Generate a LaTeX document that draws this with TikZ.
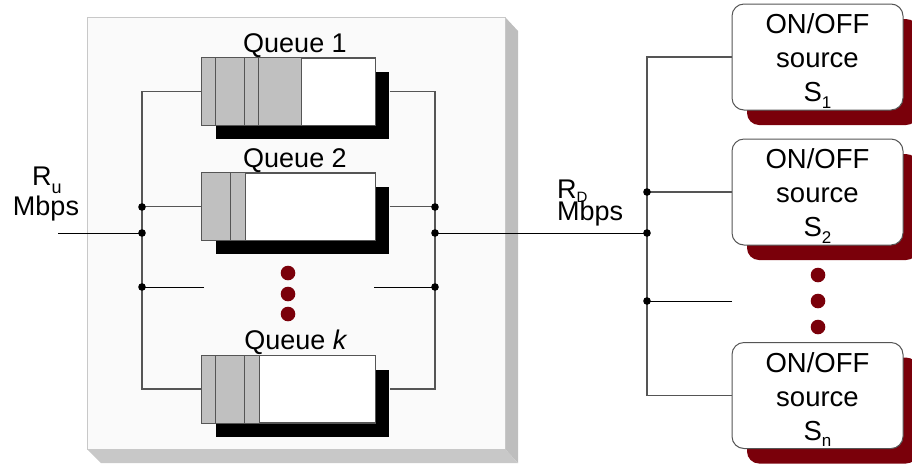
\documentclass[tikz,border=0pt]{standalone}
\usepackage{fontspec}
\setmainfont{Liberation Sans}
\usetikzlibrary{shadows}
\definecolor{maroonx}{RGB}{122,0,10}
\definecolor{cellgray}{RGB}{192,192,192}
\definecolor{edgegray}{RGB}{85,85,85}
\definecolor{panelside}{RGB}{190,190,190}
\definecolor{panelbottom}{RGB}{200,200,200}
\definecolor{panelface}{RGB}{250,250,250}
\definecolor{panelline}{RGB}{200,200,200}
\newcommand\qcellsx[2]{%
  \fill[cellgray] (#1.north west) rectangle ([xshift=#2pt]#1.south west);
}
\newcommand\qdivx[2]{%
  \foreach \dx in {#2} {\draw[edgegray,line width=1.2pt] ([xshift=\dx pt]#1.north west) -- ([xshift=\dx pt]#1.south west);}
  \draw[edgegray,line width=1pt] (#1.north west) rectangle (#1.south east);
}
\newcommand\subx[2]{\raisebox{#1}{\fontsize{17}{17}\selectfont #2}}
\begin{document}
\begin{tikzpicture}[x=1pt,y=-1pt,
 lbl/.style={font=\fontsize{27}{30}\selectfont, inner sep=0pt},
 qbox/.style={draw=edgegray, line width=1pt, fill=white, minimum width=173pt, minimum height=67pt, inner sep=0pt,
   drop shadow={shadow xshift=14pt, shadow yshift=-14pt, fill=black, opacity=1}},
 srcbox/.style={draw=edgegray, line width=1pt, fill=white, rounded corners=12pt, minimum width=171pt, minimum height=106pt,
   inner sep=0pt, align=center, font=\fontsize{27.5}{34}\selectfont,
   drop shadow={shadow xshift=15pt, shadow yshift=-15pt, fill=maroonx, opacity=1}},
 wire/.style={draw=edgegray, line width=1.3pt},
 iowire/.style={draw=black, line width=1pt},
]
\useasboundingbox (0,0) rectangle (912,467);
% panel
\fill[panelside] (505,17) -- (518,31) -- (518,463) -- (505,449) -- cycle;
\fill[panelbottom] (87,449) -- (505,449) -- (518,463) -- (101,463) -- cycle;
\draw[panelline, fill=panelface] (87,17) rectangle (505,449);

% queues
\node[qbox] (q1) at (288.5,91.5) {};
\node[qbox] (q2) at (288.5,206.5) {};
\node[qbox] (qk) at (288.5,389) {};
\qcellsx{q1}{100}\qdivx{q1}{14,43,57,100}
\qcellsx{q2}{44}\qdivx{q2}{29,44}
\qcellsx{qk}{58}\qdivx{qk}{14,43,58}

\node[lbl, anchor=base] (l1) at (295,52) {Queue 1};
\node[lbl, anchor=base] (l2) at (295,167) {Queue 2};
\node[lbl, anchor=base] (lk) at (296,349) {Queue \textit{k}};

% buses
\coordinate (lbus) at (142,0);
\coordinate (rbus) at (435,0);
\coordinate (sbus) at (647,0);
\coordinate (in) at (58,233);
\coordinate (ml) at (204,287);
\coordinate (mr) at (374,287);
\coordinate (ms) at (732,301);

\draw[wire] (q1.west) -- (q1.west -| lbus) -- (qk.west -| lbus) -- (qk.west);
\draw[wire] ([xshift=14pt]q1.east) -- (q1.east -| rbus) -- (qk.east -| rbus) -- ([xshift=14pt]qk.east);
\draw[wire] (q2.west) -- (q2.west -| lbus);
\draw[wire] ([xshift=14pt]q2.east) -- (q2.east -| rbus);
\draw[iowire] (ml) -- (ml -| lbus);
\draw[iowire] (mr) -- (mr -| rbus);
\draw[iowire] (in) -- (in -| lbus);

% sources
\node[srcbox] (s1) at (817.5,57) {\rule{0pt}{28pt}ON/OFF\\source\\S\subx{-7pt}{1}};
\node[srcbox] (s2) at (817.5,192) {\rule{0pt}{28pt}ON/OFF\\source\\S\subx{-7pt}{2}};
\node[srcbox] (sn) at (817.5,395.5) {\rule{0pt}{28pt}ON/OFF\\source\\S\subx{-6pt}{n}};

\draw[iowire] (in -| rbus) -- (in -| sbus);
\draw[wire] (s1.west) -- (s1.west -| sbus) -- (sn.west -| sbus) -- (sn.west);
\draw[wire] (s2.west) -- (s2.west -| sbus);
\draw[iowire] (ms) -- (ms -| sbus);

% junction dots
\foreach \y in {207,233,287} {
  \fill (142,\y) circle (3.8pt);
  \fill (435,\y) circle (3.8pt);
}
\foreach \y in {192,233,301} \fill (647,\y) circle (3.8pt);

% ellipsis dots
\foreach \y in {273,294,314} \fill[maroonx] (288,\y) circle (7.3pt);
\foreach \y in {275,301,327} \fill[maroonx] (818,\y) circle (7.3pt);

% rate labels
\node[lbl, anchor=base] (ru) at (47,185) {R\raisebox{-8pt}{\fontsize{18}{18}\selectfont u}};
\node[lbl, anchor=base] (rum) at (46,215) {Mbps};
\node[lbl, anchor=base west] (rd) at (557,198) {R\raisebox{-4pt}{\fontsize{15}{15}\selectfont D}};
\node[lbl, anchor=base west] (rdm) at (557,220) {Mbps};
\end{tikzpicture}
\end{document}
